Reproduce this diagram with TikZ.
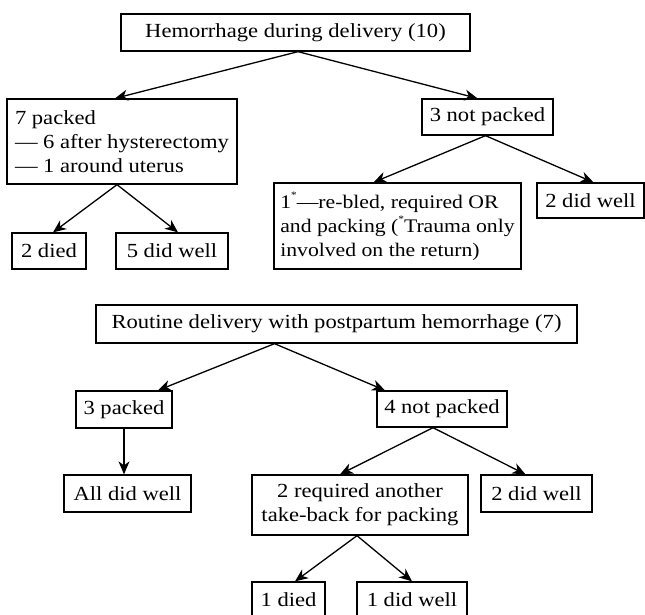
\documentclass[tikz,border=0pt]{standalone}
\usepackage{fontspec}
\setmainfont{Liberation Serif}[FakeStretch=1.13]
\usetikzlibrary{positioning,arrows.meta}

\newcommand{\smallstar}{\raisebox{0.5em}{\fontsize{10}{10}\selectfont *}}

\begin{document}
\begin{tikzpicture}[
x=1pt, y=-1pt,
line width=1.3pt,
>={Stealth[length=13pt,width=11pt,inset=4pt]},
box/.style={rectangle, draw, align=center, inner sep=0pt, font=\fontsize{20}{24}\selectfont},
leftbox/.style={align=left}
]
\useasboundingbox (0,0) rectangle (645,614);

% first tree
\node[box, minimum width=349pt, minimum height=37pt] (hem) at (295.5,32.5) {Hemorrhage during delivery (10)};

\node[box, leftbox, minimum width=230pt, minimum height=85pt] (packed7) at (122,141.5) {7 packed\\— 6 after hysterectomy\\— 1 around uterus};
\node[box, minimum width=131pt, minimum height=36pt] (notpacked3) at (487.5,117) {3 not packed};

\node[box, minimum width=74pt, minimum height=36pt] (died2) at (49,251) {2 died};
\node[box, minimum width=112pt, minimum height=36pt] (well5) at (172,251) {5 did well};
\node[box, leftbox, font=\fontsize{19.2}{24}\selectfont, minimum width=247pt, minimum height=86pt] (rebled) at (397.5,226) {1\smallstar—re-bled, required OR\\and packing (\smallstar Trauma only\\involved on the return)};
\node[box, minimum width=107pt, minimum height=35pt] (wellA) at (590.5,200.5) {2 did well};

% second tree
\node[box, minimum width=481pt, minimum height=38pt] (routine) at (336.5,324) {Routine delivery with postpartum hemorrhage (7)};

\node[box, minimum width=96pt, minimum height=37pt] (packed3) at (124,409.5) {3 packed};
\node[box, minimum width=130pt, minimum height=36pt] (notpacked4) at (442,409) {4 not packed};

\node[box, minimum width=127pt, minimum height=37pt] (allwell) at (127.5,493.5) {All did well};
\node[box, minimum width=216pt, minimum height=60pt] (takeback) at (360,505) {2 required another\\take-back for packing};
\node[box, minimum width=111pt, minimum height=37pt] (wellB) at (536.5,493.5) {2 did well};

\node[box, minimum width=73pt, minimum height=36pt] (died1) at (288.5,600) {1 died};
\node[box, minimum width=110pt, minimum height=36pt] (well1) at (412,600) {1 did well};

\draw[->] ([xshift=2.5pt]hem.south) -- ([xshift=-7pt]packed7.north);
\draw[->] ([xshift=2.5pt]hem.south) -- ([xshift=-10pt]notpacked3.north);
\draw[->] ([xshift=-5pt]packed7.south) -- ([xshift=4pt]died2.north);
\draw[->] ([xshift=-5pt]packed7.south) -- ([xshift=6pt]well5.north);
\draw[->] ([xshift=-2pt]notpacked3.south) -- ([xshift=-24pt]rebled.north);
\draw[->] ([xshift=-2pt]notpacked3.south) -- ([xshift=3pt]wellA.north);

\draw[->] ([xshift=-62pt]routine.south) -- ([xshift=34pt]packed3.north);
\draw[->] ([xshift=-62pt]routine.south) -- ([xshift=-57pt]notpacked4.north);
\draw[->] (packed3.south) -- (packed3.south |- allwell.north);
\draw[->] ([xshift=-9pt]notpacked4.south) -- ([xshift=-20pt]takeback.north);
\draw[->] ([xshift=-9pt]notpacked4.south) -- ([xshift=-11pt]wellB.north);
\draw[->] ([xshift=-3pt]takeback.south) -- ([xshift=6.5pt]died1.north);
\draw[->] ([xshift=-3pt]takeback.south) -- (well1.north);

\end{tikzpicture}
\end{document}
